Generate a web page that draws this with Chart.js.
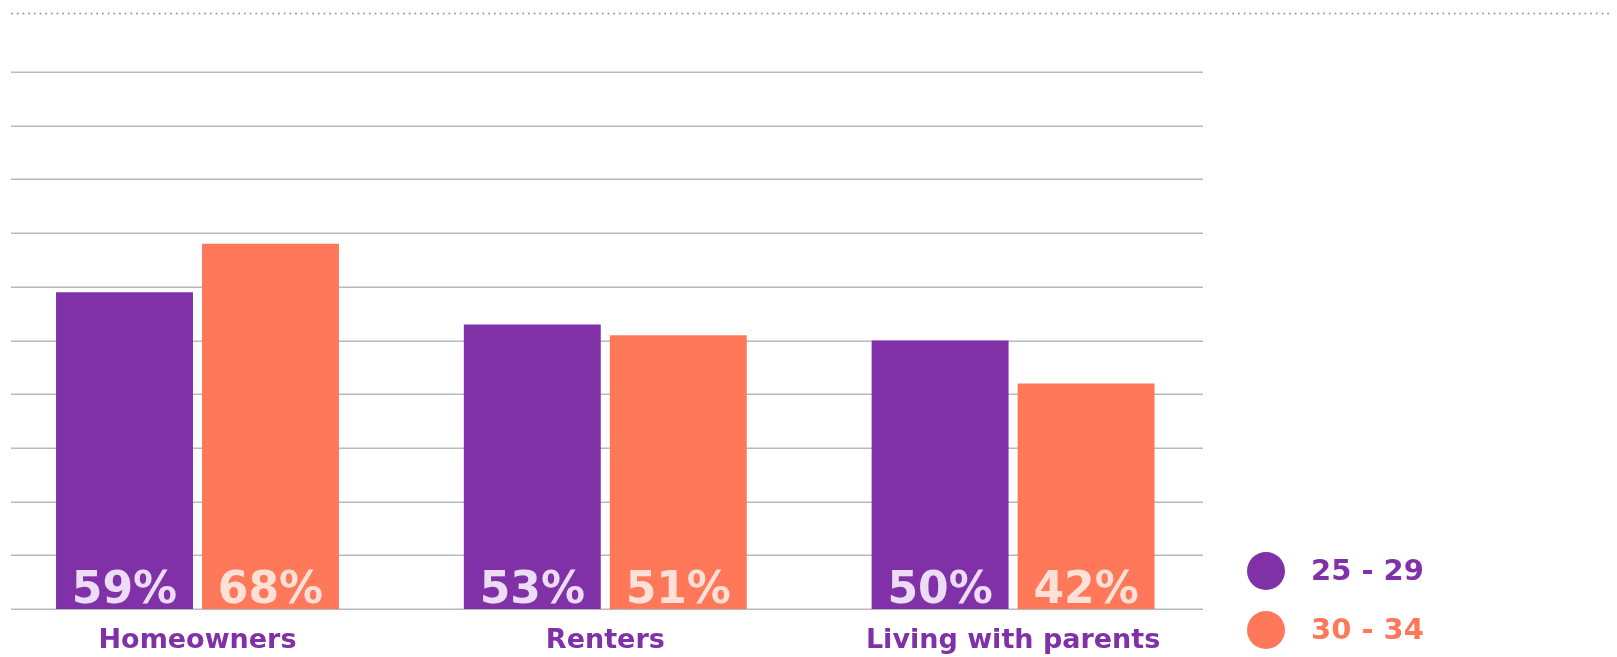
<!DOCTYPE html>
<html>
<head>
<meta charset="utf-8">
<script src="https://cdn.jsdelivr.net/npm/chart.js@4.4.1/dist/chart.umd.min.js"></script>
<style>
  body { margin: 0; background: #fff; overflow: hidden; width: 1617px; height: 657px; position: relative; }
  #wrap { position: absolute; left: -30px; top: 0; width: 1660px; height: 657px; }
  .legend { position: absolute; left: 1247px; font-family: "DejaVu Sans", sans-serif; font-weight: bold; font-size: 29px; }
  .legend .dot { position: absolute; left: 0; width: 38px; height: 38px; border-radius: 50%; }
  .legend span.txt { position: absolute; left: 64px; white-space: nowrap; line-height: 1; }
</style>
</head>
<body>
<div id="wrap"><canvas id="myChart"></canvas></div>
<div class="legend" style="top:552px;">
  <div class="dot" style="background:#8031a7;"></div>
  <span class="txt" style="top:4px;color:#8031a7;">25 - 29</span>
</div>
<div class="legend" style="top:611px;">
  <div class="dot" style="background:#ff785a;"></div>
  <span class="txt" style="top:4px;color:#ff785a;">30 - 34</span>
</div>
<script>
const categories = ['Homeowners', 'Renters', 'Living with parents'];
const age2529 = [59, 53, 50];
const age3034 = [68, 51, 42];
const yTicks = [0, 10, 20, 30, 40, 50, 60, 70, 80, 90, 100];

const purple = '#8031a7';
const orange = '#ff785a';

// gridlines + top dotted rule, drawn from the y scale
const gridPlugin = {
  id: 'grid',
  beforeDatasetsDraw(chart) {
    const ctx = chart.ctx;
    const y = chart.scales.y;
    ctx.save();
    ctx.strokeStyle = '#b9b9b9';
    ctx.lineWidth = 1.5;
    yTicks.forEach(v => {
      const py = Math.round(y.getPixelForValue(v)) + 0.25;
      ctx.beginPath();
      ctx.moveTo(41, py);
      ctx.lineTo(1233, py);
      ctx.stroke();
    });
    ctx.strokeStyle = '#9a9a9a';
    ctx.lineWidth = 2;
    ctx.lineCap = 'round';
    ctx.setLineDash([0.01, 5.67]);
    ctx.beginPath();
    ctx.moveTo(42, 13.5);
    ctx.lineTo(1643, 13.5);
    ctx.stroke();
    ctx.restore();
  }
};

// percentage labels inside bar bottoms
const valuePlugin = {
  id: 'values',
  afterDatasetsDraw(chart) {
    const ctx = chart.ctx;
    const textColors = ['#eddcf6', '#ffe0d6'];
    ctx.save();
    ctx.font = 'bold 44px "DejaVu Sans"';
    ctx.textAlign = 'center';
    ctx.textBaseline = 'alphabetic';
    chart.data.datasets.forEach((ds, i) => {
      chart.getDatasetMeta(i).data.forEach((bar, j) => {
        ctx.fillStyle = textColors[i];
        ctx.fillText(ds.data[j] + '%', bar.x, bar.base - 6);
      });
    });
    ctx.restore();
  }
};

const ctx = document.getElementById('myChart').getContext('2d');
Chart.defaults.font.family = '"DejaVu Sans", sans-serif';
const myChart = new Chart(ctx, {
  type: 'bar',
  data: {
    labels: categories,
    datasets: [
      { label: '25 - 29', data: age2529, backgroundColor: purple, categoryPercentage: 0.716, barPercentage: 0.938 },
      { label: '30 - 34', data: age3034, backgroundColor: orange, categoryPercentage: 0.716, barPercentage: 0.938 }
    ]
  },
  options: {
    responsive: true,
    maintainAspectRatio: false,
    animation: false,
    layout: { padding: { left: 23.6, right: 413, top: 72, bottom: 0 } },
    plugins: { legend: { display: false }, tooltip: { enabled: false } },
    scales: {
      x: {
        grid: { display: false },
        border: { display: false },
        ticks: { color: purple, font: { size: 27, weight: 'bold' }, padding: 8 },
        afterFit(scale) { scale.height = 48; }
      },
      y: {
        display: false,
        min: 0,
        max: 100,
        ticks: { stepSize: 10 }
      }
    }
  },
  plugins: [gridPlugin, valuePlugin]
});
</script>
</body>
</html>
